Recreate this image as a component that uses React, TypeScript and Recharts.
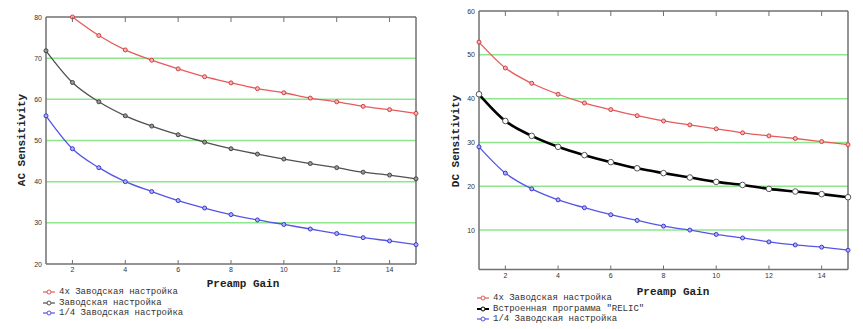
import { LineChart, Line, XAxis, YAxis, ReferenceLine } from 'recharts';

const gains = [1, 2, 3, 4, 5, 6, 7, 8, 9, 10, 11, 12, 13, 14, 15];
const xTicks = [2, 4, 6, 8, 10, 12, 14];

// AC chart
const acFactory4x = [null, 80, 75.5, 72, 69.5, 67.4, 65.5, 64.0, 62.6, 61.6, 60.3, 59.4, 58.3, 57.5, 56.6];
const acFactory = [71.8, 64.1, 59.4, 56.0, 53.5, 51.4, 49.6, 48.0, 46.7, 45.5, 44.4, 43.4, 42.3, 41.6, 40.7];
const acFactoryQuarter = [56.0, 48.0, 43.4, 40.0, 37.6, 35.4, 33.6, 32.0, 30.7, 29.6, 28.5, 27.4, 26.4, 25.6, 24.7];
const acTicks = [20, 30, 40, 50, 60, 70, 80];
const acGrid = [30, 40, 50, 60, 70];

// DC chart
const dcFactory4x = [52.9, 47.0, 43.5, 41.0, 39.0, 37.5, 36.1, 34.9, 34.0, 33.1, 32.2, 31.5, 30.9, 30.2, 29.5];
const dcRelic = [41.0, 34.9, 31.5, 29.0, 27.1, 25.5, 24.1, 23.0, 22.0, 21.0, 20.3, 19.4, 18.8, 18.2, 17.5];
const dcFactoryQuarter = [29.0, 23.0, 19.4, 16.9, 15.1, 13.5, 12.2, 10.9, 10.0, 9.0, 8.2, 7.3, 6.6, 6.1, 5.4];
const dcTicks = [10, 20, 30, 40, 50, 60];
const dcGrid = [10, 20, 30, 40, 50];

const acLegend = ['4x Заводская настройка', 'Заводская настройка', '1/4 Заводская настройка'];
const dcLegend = ['4x Заводская настройка', 'Встроенная программа "RELIC"', '1/4 Заводская настройка'];

const RED = '#e85a5a';
const GRAY = '#505050';
const BLUE = '#5555e8';
const GREEN = '#8ee68e';
const AXIS = '#707070';

const mono = '"Liberation Mono", "DejaVu Sans Mono", monospace';

const acData = gains.map((g, i) => ({ g, a: acFactory4x[i], b: acFactory[i], c: acFactoryQuarter[i] }));
const dcData = gains.map((g, i) => ({ g, a: dcFactory4x[i], b: dcRelic[i], c: dcFactoryQuarter[i] }));

const BottomTick = (props: any) => {
  const { x, y, payload } = props;
  return (
    <g>
      <line x1={x} x2={x} y1={y} y2={y - 4} stroke={AXIS} strokeWidth={1} />
      <text x={x} y={y + 8} textAnchor="middle" fontSize={7} fontFamily="Liberation Sans" fill="#333">
        {payload.value}
      </text>
    </g>
  );
};

const TopTick = (props: any) => {
  const { x, y } = props;
  return <line x1={x} x2={x} y1={y} y2={y + 5} stroke={AXIS} strokeWidth={1} />;
};

const LeftTick = (props: any) => {
  const { x, y, payload } = props;
  return (
    <text x={x - 4} y={y + 2.5} textAnchor="end" fontSize={7} fontFamily="Liberation Sans" fill="#333">
      {payload.value}
    </text>
  );
};

const makeDot = (stroke: string, fill: string, r: number) => (props: any) => {
  const { cx, cy, index } = props;
  if (cx == null || cy == null) return <g key={index} />;
  return <circle key={index} cx={cx} cy={cy} r={r} stroke={stroke} strokeWidth={1} fill={fill} />;
};

function Chart({ data, domain, ticks, grid, width, height, margin, yWidth, relic }: any) {
  return (
    <LineChart width={width} height={height} data={data} margin={margin}>
      {grid.map((v: number) => (
        <ReferenceLine key={v} y={v} stroke={GREEN} strokeWidth={1.5} />
      ))}
      <XAxis
        dataKey="g"
        type="number"
        domain={[1, 15]}
        ticks={xTicks}
        height={20}
        tickSize={0}
        tickMargin={0}
        axisLine={{ stroke: AXIS, strokeWidth: 1.5 }}
        tick={<BottomTick />}
      />
      <XAxis
        xAxisId="top"
        orientation="top"
        dataKey="g"
        type="number"
        domain={[1, 15]}
        ticks={xTicks}
        height={4}
        tickSize={0}
        tickMargin={0}
        axisLine={{ stroke: AXIS, strokeWidth: 1.5 }}
        tick={<TopTick />}
      />
      <YAxis
        type="number"
        domain={domain}
        ticks={ticks}
        width={yWidth}
        tickSize={0}
        tickMargin={0}
        axisLine={{ stroke: AXIS, strokeWidth: 1.5 }}
        tick={<LeftTick />}
      />
      <ReferenceLine x={15} stroke={AXIS} strokeWidth={1.5} />
      <Line
        type="monotone"
        dataKey="a"
        stroke={RED}
        strokeWidth={1.3}
        dot={makeDot('#d04040', '#f6b4b4', 2)}
        isAnimationActive={false}
        connectNulls={false}
      />
      <Line
        type="monotone"
        dataKey="b"
        stroke={relic ? '#000' : GRAY}
        strokeWidth={relic ? 2.6 : 1.3}
        dot={relic ? makeDot('#555', '#fff', 2.8) : makeDot('#444', '#999', 2)}
        isAnimationActive={false}
      />
      <Line
        type="monotone"
        dataKey="c"
        stroke={BLUE}
        strokeWidth={1.3}
        dot={makeDot('#3838d0', '#b0b0f6', 2)}
        isAnimationActive={false}
      />
    </LineChart>
  );
}

function LegendBlock({ left, top, labels, relic }: any) {
  const colors = [RED, relic ? '#000' : GRAY, BLUE];
  return (
    <div style={{ position: 'absolute', left, top }}>
      {labels.map((l: string, i: number) => (
        <div key={l} style={{ display: 'flex', alignItems: 'center', height: 10.5 }}>
          <svg width={14} height={8} style={{ marginRight: 3 }}>
            <line x1={1} x2={13} y1={4} y2={4} stroke={colors[i]} strokeWidth={relic && i === 1 ? 2 : 1.2} />
            <circle cx={7} cy={4} r={2} stroke={colors[i]} fill="#fff" strokeWidth={1} />
          </svg>
          <span style={{ fontFamily: mono, fontSize: 9, color: '#333', whiteSpace: 'nowrap' }}>{l}</span>
        </div>
      ))}
    </div>
  );
}

const titleStyle: any = {
  position: 'absolute',
  fontFamily: mono,
  fontWeight: 'bold',
  fontSize: 11,
  color: '#222',
  whiteSpace: 'nowrap',
};

export default function App() {
  return (
    <div style={{ position: 'absolute', left: 0, top: 0, width: 863, height: 329, background: '#fff', overflow: 'hidden' }}>
      <div style={{ position: 'absolute', left: 0, top: 0 }}>
        <Chart
          data={acData}
          domain={[20, 80]}
          ticks={acTicks}
          grid={acGrid}
          width={430}
          height={329}
          margin={{ top: 13, right: 14, bottom: 45, left: 0 }}
          yWidth={46}
        />
      </div>
      <div style={{ position: 'absolute', left: 430, top: 0 }}>
        <Chart
          data={dcData}
          domain={[1, 60]}
          ticks={dcTicks}
          grid={dcGrid}
          width={433}
          height={329}
          margin={{ top: 7, right: 15, bottom: 39.5, left: 0 }}
          yWidth={49}
          relic
        />
      </div>

      <div style={{ ...titleStyle, left: 22, top: 140, transform: 'translate(-50%, -50%) rotate(-90deg)' }}>AC Sensitivity</div>
      <div style={{ ...titleStyle, left: 456, top: 141, transform: 'translate(-50%, -50%) rotate(-90deg)' }}>DC Sensitivity</div>
      <div style={{ ...titleStyle, left: 243, top: 284, transform: 'translate(-50%, -50%)' }}>Preamp Gain</div>
      <div style={{ ...titleStyle, left: 673, top: 292, transform: 'translate(-50%, -50%)' }}>Preamp Gain</div>

      <LegendBlock left={42} top={287} labels={acLegend} />
      <LegendBlock left={476} top={293} labels={dcLegend} relic />
    </div>
  );
}
